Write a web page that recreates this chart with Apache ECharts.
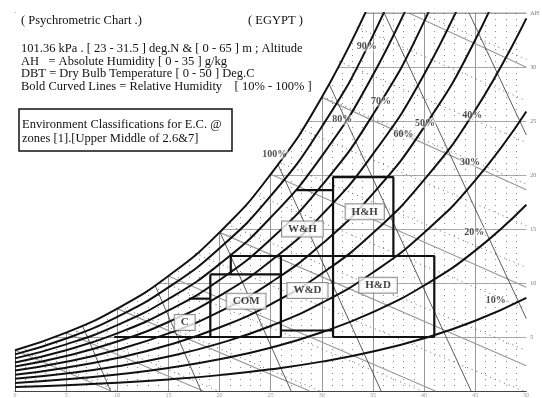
<!DOCTYPE html>
<html>
<head>
<meta charset="utf-8">
<script src="https://cdn.jsdelivr.net/npm/echarts@6/dist/echarts.min.js"></script>
<style>
  html, body { margin: 0; padding: 0; background: #fff; }
  #chart { width: 542px; height: 398px; }
</style>
</head>
<body>
<div id="chart"></div>
<script>
// DBT steps (deg C) used by all RH curves
const dbtSteps = [0, 5, 10, 15, 20, 25, 30, 35, 40, 45, 50];

// AH (g/kg)
const rh100 = [3.77, 5.40, 7.63, 10.65, 14.69, 20.07, 27.19, 36.56];
const rh90 = [3.39, 4.86, 6.87, 9.59, 13.22, 18.06, 24.47, 32.90, 43.97];
const rh80 = [3.02, 4.32, 6.10, 8.52, 11.75, 16.06, 21.75, 29.25, 39.08];
const rh70 = [2.64, 3.78, 5.34, 7.46, 10.28, 14.05, 19.03, 25.59, 34.20, 45.50];
const rh60 = [2.26, 3.24, 4.58, 6.39, 8.81, 12.04, 16.31, 21.94, 29.31, 39.00];
const rh50 = [1.89, 2.70, 3.82, 5.33, 7.35, 10.04, 13.60, 18.28, 24.43, 32.50, 43.13];
const rh40 = [1.51, 2.16, 3.05, 4.26, 5.88, 8.03, 10.88, 14.62, 19.54, 26.00, 34.50];
const rh30 = [1.13, 1.62, 2.29, 3.20, 4.41, 6.02, 8.16, 10.97, 14.66, 19.50, 25.88];
const rh20 = [0.75, 1.08, 1.53, 2.13, 2.94, 4.01, 5.44, 7.31, 9.77, 13.00, 17.25];
const rh10 = [0.38, 0.54, 0.76, 1.07, 1.47, 2.01, 2.72, 3.66, 4.89, 6.50, 8.63];
const rhCurves = [rh100, rh90, rh80, rh70, rh60, rh50, rh40, rh30, rh20, rh10];

// RH curve labels
const rhNames = ['100%', '90%', '80%', '70%', '60%', '50%', '40%', '30%', '20%', '10%'];
const rhLabelT = [25.4, 34.4, 32.0, 35.8, 38.0, 40.1, 44.7, 44.5, 44.9, 47.0];
const rhLabelAH = [21.9, 31.9, 25.1, 26.8, 23.8, 24.8, 25.5, 21.2, 14.7, 8.4];

// wet bulb lines (grey), every 5 deg C
const wetBulbLines = [
  [[0, 3.77], [9.4, 0]],
  [[5, 5.40], [18.4, 0]],
  [[10, 7.63], [28.8, 0]],
  [[15, 10.65], [41.1, 0]],
  [[20, 14.69], [50, 2.34]],
  [[25, 20.07], [50, 9.60]],
  [[30, 27.19], [50, 18.63]],
  [[38.5, 35], [50, 29.98]]
];

// specific volume lines (thin black), 0.80 .. 0.95 m3/kg
const volumeLines = [
  [[6.6, 6.04], [9.35, 0]],
  [[13.7, 9.77], [18.2, 0]],
  [[20.05, 14.7], [27.0, 0]],
  [[25.7, 21.0], [35.8, 0]],
  [[30.75, 28.35], [44.6, 0]],
  [[36.1, 35], [50, 6.7]],
  [[44.4, 35], [50, 23.7]]
];

// enthalpy lines (dotted), 10 .. 130 kJ/kg
const enthalpyLines = [
  [[0.3, 3.87], [9.94, 0]],
  [[5.65, 5.70], [19.88, 0]],
  [[10.3, 7.79], [29.8, 0]],
  [[14.2, 10.17], [39.8, 0]],
  [[17.6, 12.74], [49.7, 0]],
  [[20.7, 15.43], [50, 3.74]],
  [[23.4, 18.26], [50, 7.59]],
  [[25.8, 21.2], [50, 11.45]],
  [[27.9, 24.26], [50, 15.3]],
  [[30.05, 27.29], [50, 19.16]],
  [[31.7, 30.51], [50, 23.0]],
  [[33.4, 33.7], [50, 26.87]],
  [[39.65, 35], [50, 30.7]]
];

// zone boundaries (DBT, AH)
const zoneLines = [
  [[17.0, 8.55], [19.1, 8.55]],
  [[19.1, 10.8], [19.1, 5.0]],
  [[9.7, 5.0], [26.0, 5.0]],
  [[31.1, 5.0], [41.0, 5.0]],
  [[26.0, 5.6], [31.1, 5.6]],
  [[19.1, 10.8], [26.0, 10.8]],
  [[26.0, 12.5], [26.0, 5.0]],
  [[21.1, 10.8], [21.1, 12.5], [41.0, 12.5], [41.0, 5.0]],
  [[31.1, 5.0], [31.1, 19.8], [37.0, 19.8], [37.0, 12.5]],
  [[27.5, 18.6], [31.1, 18.6]]
];
const zoneNames = ['C', 'COM', 'W&D', 'H&D', 'W&H', 'H&H'];
const zoneLabelT = [16.6, 22.6, 28.6, 35.5, 28.1, 34.2];
const zoneLabelAH = [6.35, 8.3, 9.3, 9.8, 15.0, 16.6];

// chart frame top edge
const frameTop = [[34.3, 35], [50, 35]];

const headerLines = [
  '101.36 kPa . [ 23 - 31.5 ] deg.N & [ 0 - 65 ] m ; Altitude',
  'AH   = Absolute Humidity [ 0 - 35 ] g/kg',
  'DBT = Dry Bulb Temperature [ 0 - 50 ] Deg.C',
  'Bold Curved Lines = Relative Humidity    [ 10% - 100% ]'
];
const boxLines = [
  'Environment Classifications for E.C. @',
  'zones [1].[Upper Middle of 2.6&7]'
];

const FONT = '"Liberation Serif", "DejaVu Serif", serif';
const HEAD_FONT = '12.5px ' + FONT;

function toPts(arr) { return arr.map((v, i) => [dbtSteps[i], v]); }

function polySeries(lines, lineStyle, z) {
  return lines.map(pts => ({
    type: 'line', data: pts, symbol: 'none', silent: true,
    lineStyle, z, animation: false
  }));
}

const series = [];

// white mask above the saturation curve (hides grid there)
series.push({
  type: 'line', data: toPts(rh100), smooth: 0.5,
  symbol: 'none', silent: true, z: 1,
  lineStyle: { width: 0 },
  areaStyle: { color: '#fff', opacity: 1, origin: 'end' }
});

series.push(...polySeries(enthalpyLines, { color: '#666', width: 1, type: [1, 4] }, 2));
series.push(...polySeries(wetBulbLines, { color: '#9a9a9a', width: 1.2 }, 2));
series.push(...polySeries(volumeLines, { color: '#333', width: 0.8 }, 2));

rhCurves.forEach(c => {
  series.push({
    type: 'line', data: toPts(c), smooth: 0.5,
    symbol: 'none', silent: true, z: 3,
    lineStyle: { color: '#111', width: 2 }
  });
});

series.push(...polySeries(zoneLines, { color: '#111', width: 2.2 }, 4));
series.push(...polySeries([frameTop], { color: '#444', width: 1 }, 4));

series.push({
  type: 'scatter', symbolSize: 1, silent: true, z: 6,
  itemStyle: { color: 'rgba(0,0,0,0)' },
  data: rhNames.map((n, i) => ({ name: n, value: [rhLabelT[i], rhLabelAH[i]] })),
  label: {
    show: true, position: 'inside', formatter: p => p.name,
    fontFamily: FONT, fontSize: 10, fontWeight: 'bold', color: '#222',
    backgroundColor: 'rgba(255,255,255,0.6)', padding: [0, 1]
  }
});

series.push({
  type: 'scatter', symbolSize: 1, silent: true, z: 7,
  itemStyle: { color: 'rgba(0,0,0,0)' },
  data: zoneNames.map((n, i) => ({ name: n, value: [zoneLabelT[i], zoneLabelAH[i]] })),
  label: {
    show: true, position: 'inside', formatter: p => p.name,
    fontFamily: FONT, fontSize: 11, fontWeight: 'bold', color: '#111',
    backgroundColor: '#fff', borderColor: '#777', borderWidth: 1,
    padding: [2, 6]
  }
});

const graphic = [
  { type: 'text', z: 100, x: 21, y: 21, style: { text: '( Psychrometric Chart .)', font: HEAD_FONT, fill: '#111', verticalAlign: 'middle' } },
  { type: 'text', z: 100, x: 248, y: 21, style: { text: '( EGYPT )', font: HEAD_FONT, fill: '#111', verticalAlign: 'middle' } }
];
headerLines.forEach((t, i) => {
  graphic.push({ type: 'text', z: 100, x: 21, y: 49 + i * 12.6, style: { text: t, font: HEAD_FONT, fill: '#111', verticalAlign: 'middle' } });
});
graphic.push({ type: 'rect', z: 100, shape: { x: 19, y: 109, width: 213, height: 42 }, style: { fill: '#fff', stroke: '#111', lineWidth: 1.5 } });
boxLines.forEach((t, i) => {
  graphic.push({ type: 'text', z: 101, x: 22, y: 125 + i * 14, style: { text: t, font: HEAD_FONT, fill: '#111', verticalAlign: 'middle' } });
});

const chart = echarts.init(document.getElementById('chart'), null, { renderer: 'canvas' });
chart.setOption({
  animation: false,
  backgroundColor: '#fff',
  grid: { left: 15, right: 12, top: 13, bottom: 5 },
  xAxis: {
    type: 'value', min: 0, max: 50, interval: 5,
    axisLine: { show: true, lineStyle: { color: '#444', width: 1 } },
    axisTick: { show: false },
    axisLabel: { fontSize: 6, color: '#999', margin: 1, fontFamily: FONT },
    splitLine: { show: true, showMaxLine: false, lineStyle: { color: '#999', width: 1 } },
    minorTick: { show: false, splitNumber: 5 },
    minorSplitLine: { show: true, lineStyle: { color: '#888', width: 1, type: [1, 5] } }
  },
  yAxis: {
    type: 'value', position: 'right', min: 0, max: 35, interval: 5,
    axisLine: { show: true, lineStyle: { color: '#444', width: 1 } },
    axisTick: { show: false },
    axisLabel: {
      fontSize: 6, color: '#777', margin: 4, fontFamily: FONT,
      formatter: v => (v === 35 ? 'AH' : (v === 0 ? '' : String(v)))
    },
    splitLine: { show: true, showMinLine: false, showMaxLine: false, lineStyle: { color: '#aaa', width: 1 } }
  },
  graphic,
  series
});
</script>
</body>
</html>
